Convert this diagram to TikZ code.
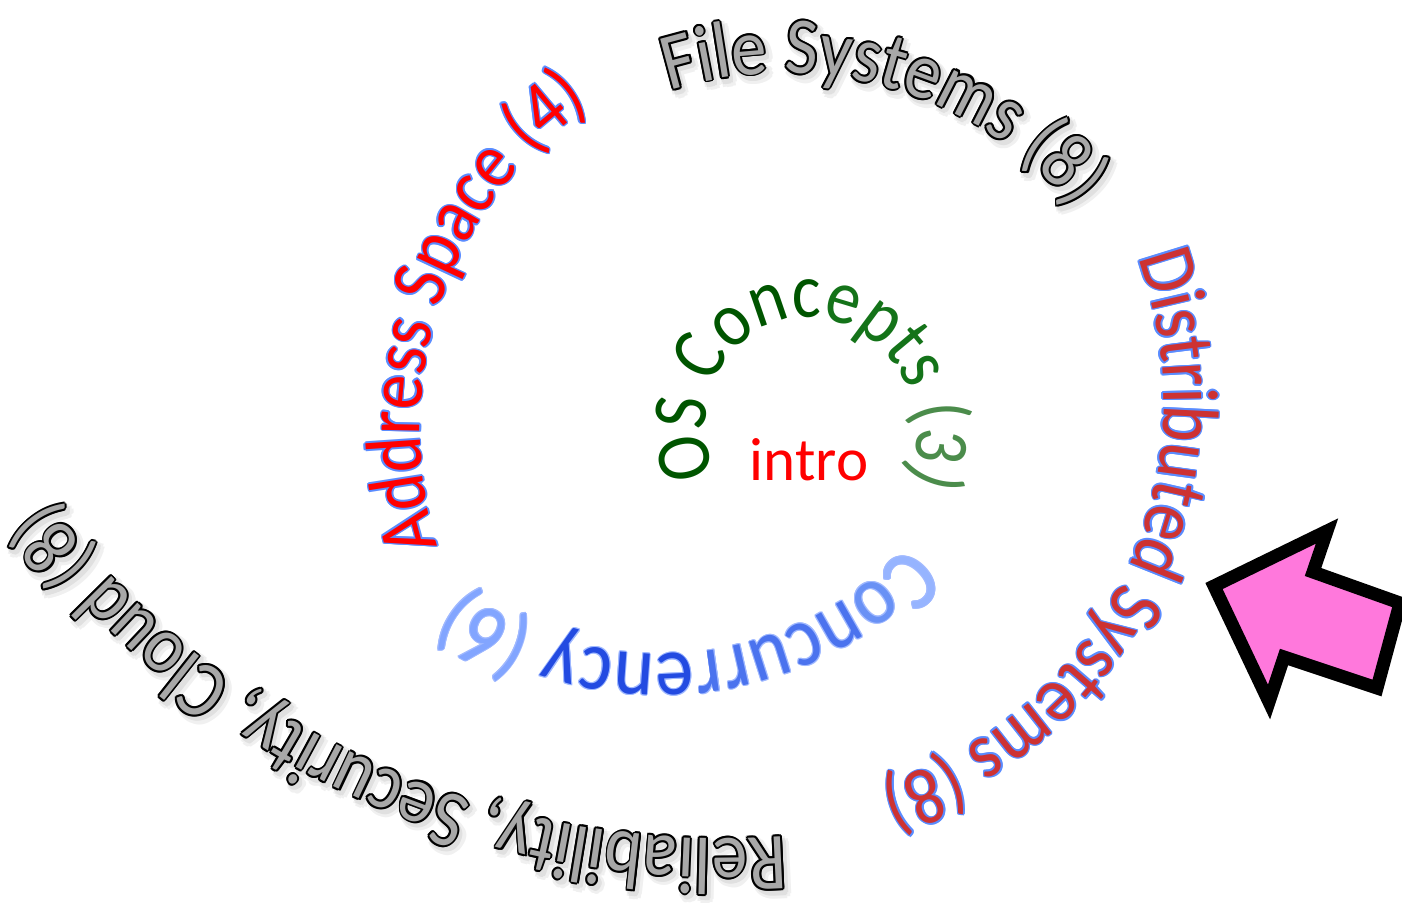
\documentclass[tikz,border=0pt]{standalone}
\usepackage{fontspec}
\setmainfont{Carlito}
\newfontfamily\spfont[FakeStretch=0.88]{Carlito}
\usetikzlibrary{decorations.text}
\definecolor{osA}{RGB}{0,85,0}
\definecolor{osB}{RGB}{20,115,25}
\definecolor{osC}{RGB}{75,140,75}
\definecolor{coA}{RGB}{150,180,255}
\definecolor{coB}{RGB}{105,145,245}
\definecolor{coC}{RGB}{75,115,238}
\definecolor{coD}{RGB}{35,75,225}
\definecolor{coE}{RGB}{130,165,255}
\definecolor{coLine}{RGB}{160,185,255}
\definecolor{addrFill}{RGB}{255,0,0}
\definecolor{blueLine}{RGB}{90,140,255}
\definecolor{distFill}{RGB}{205,50,50}
\definecolor{greyFill}{RGB}{168,168,168}
\definecolor{arrowPink}{RGB}{255,120,220}
% 1 unit = 0.3pt, so font sizes are 0.3 x pixel sizes
\newcommand\osfont{\spfont\fontsize{23.3}{23.3}\selectfont}
\newcommand\cofont{\spfont\fontsize{25.8}{25.8}\selectfont}
\newcommand\adfont{\spfont\fontsize{23.6}{23.6}\selectfont}
\newcommand\fsfont{\spfont\fontsize{24.2}{24.2}\selectfont}
\newcommand\dsfont{\spfont\fontsize{23.8}{23.8}\selectfont}
\newcommand\rsfont{\spfont\fontsize{24.3}{24.3}\selectfont}
% baseline paths (clockwise spiral pieces)
\def\pathOS{plot[domain=0:250,samples=90,variable=\t] ({806+(99+0.06*\t)*cos(204-\t)},{430-(110+0.02*\t)*sin(204-\t)})}
\def\pathCO{plot[domain=0:100,samples=101,variable=\t] ({660+336*cos(-42.7-\t)},{318-336*sin(-42.7-\t)})}
\def\pathAD{plot[domain=0:95,samples=96,variable=\t] ({812+392*cos(197.4-\t)},{429-392*sin(197.4-\t)})}
\def\pathFS{plot[domain=0:90,samples=91,variable=\t] ({784+380*cos(107.5-\t)},{453-380*sin(107.5-\t)})}
\def\pathDS{plot[domain=0:115,samples=116,variable=\t] ({758+(410-0.2*\t)*cos(22.3-\t)},{413-(410-0.2*\t)*sin(22.3-\t)})}
\def\pathRS{plot[domain=0:75,samples=76,variable=\t] ({707+(853-0.3*\t)*cos(-84.7-\t)},{-13-(853-0.3*\t)*sin(-84.7-\t)})}
% #1 path, #2 text, #3 colour, #4 radius, #5 dx, #6 dy
\newcommand\ringpass[6]{%
  \foreach \ang in {0,40,...,320}{%
    \path[shift={({#5+#4*cos(\ang)},{#6+#4*sin(\ang)})},decorate,
      decoration={text along path,text color=#3,text={#2}}] #1;}}
\newcommand\fillpass[3]{%
  \path[decorate,decoration={text along path,text color=#3,text={#2}}] #1;}
\begin{document}
\begin{tikzpicture}[x=0.3pt,y=-0.3pt]
\useasboundingbox (0,0) rectangle (1402,902);
\clip (0,0) rectangle (1402,902);
% centre
\node[font=\fontsize{18.3}{18.3}\selectfont,text=red,anchor=base,inner sep=0pt] (intro) at (809,480) {intro};
\path[decorate,decoration={text along path,text={|\osfont\color{osA}|OS Conc|\osfont\color{osB}|epts |\osfont\color{osC}|(3)}}] \pathOS;
% concurrency
\ringpass{\pathCO}{|\cofont|Concurrency (6)}{coLine}{1}{0}{0}
\path[decorate,decoration={text along path,text={|\cofont\color{coA}|C|\cofont\color{coB}|o|\cofont\color{coC}|ncurr|\cofont\color{coD}|ency |\cofont\color{coE}|(6)}}] \pathCO;
% address space
\ringpass{\pathAD}{|\adfont|Address Space (4)}{blueLine}{1.6}{0}{0}
\fillpass{\pathAD}{|\adfont|Address Space (4)}{addrFill}
% file systems
\ringpass{\pathFS}{|\fsfont|File Systems (8)}{black!6}{5}{4}{5}
\ringpass{\pathFS}{|\fsfont|File Systems (8)}{black!12}{2.5}{3}{4}
\ringpass{\pathFS}{|\fsfont|File Systems (8)}{black}{2}{0}{0}
\fillpass{\pathFS}{|\fsfont|File Systems (8)}{greyFill}
% distributed systems
\ringpass{\pathDS}{|\dsfont|Distributed Systems (8)}{blueLine}{1.6}{0}{0}
\fillpass{\pathDS}{|\dsfont|Distributed Systems (8)}{distFill}
% reliability
\ringpass{\pathRS}{|\rsfont|Reliability, Security, Cloud (8)}{black!6}{5}{4}{5}
\ringpass{\pathRS}{|\rsfont|Reliability, Security, Cloud (8)}{black!12}{2.5}{3}{4}
\ringpass{\pathRS}{|\rsfont|Reliability, Security, Cloud (8)}{black}{2}{0}{0}
\fillpass{\pathRS}{|\rsfont|Reliability, Security, Cloud (8)}{greyFill}
% arrow
\draw[line width=3.9pt,line join=miter,fill=arrowPink] (1214,586) -- (1327,531) -- (1313,572) -- (1400,603) -- (1377,688) -- (1284,657) -- (1269,702) -- cycle;
\end{tikzpicture}
\end{document}
